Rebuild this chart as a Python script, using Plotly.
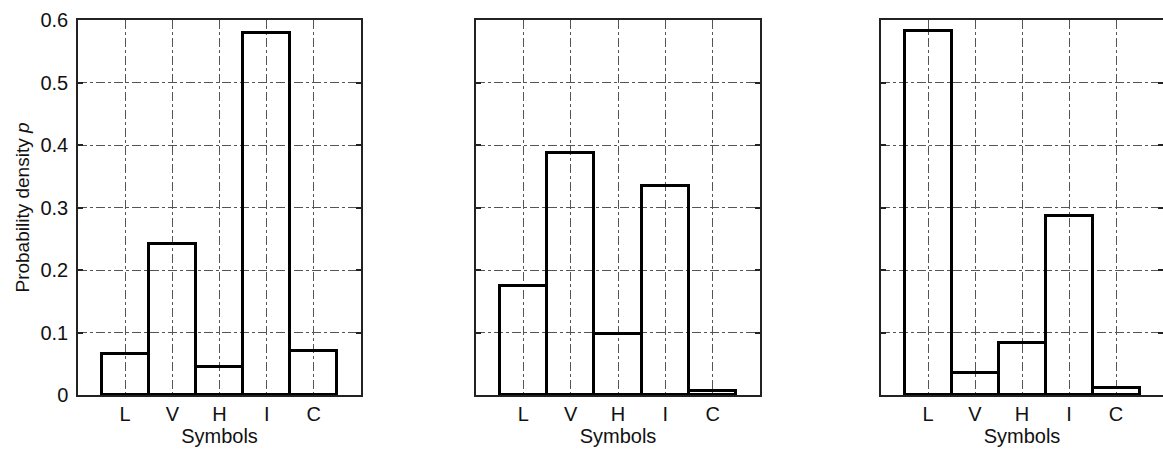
import plotly.graph_objects as go

symbols = ["L", "V", "H", "I", "C"]
positions = [1, 2, 3, 4, 5]
panel1 = [0.065, 0.241, 0.045, 0.580, 0.071]
panel2 = [0.174, 0.388, 0.098, 0.334, 0.006]
panel3 = [0.582, 0.035, 0.083, 0.287, 0.012]
y_ticks = [0, 0.1, 0.2, 0.3, 0.4, 0.5, 0.6]
y_tick_text = ["0", "0.1", "0.2", "0.3", "0.4", "0.5", "0.6"]

W, H = 1163, 453
FONT = "Liberation Sans, Arial, sans-serif"

fig = go.Figure()
for i, vals in enumerate([panel1, panel2, panel3]):
    suffix = "" if i == 0 else str(i + 1)
    fig.add_trace(go.Bar(
        x=positions, y=vals, width=1,
        marker=dict(color="rgba(0,0,0,0)", line=dict(color="black", width=3)),
        xaxis="x" + suffix, yaxis="y" + suffix, showlegend=False,
        hoverinfo="x+y",
    ))

x_domains = [(78 / W, 361 / W), (476 / W, 760 / W), (881 / W, 1.0)]
y_domain = (1 - 395 / H, 1 - 20 / H)

layout = dict(
    width=W, height=H,
    margin=dict(l=0, r=0, t=0, b=0),
    paper_bgcolor="white", plot_bgcolor="white",
    font=dict(family=FONT, size=20, color="#111"),
    bargap=0,
)

for i in range(3):
    suffix = "" if i == 0 else str(i + 1)
    layout["xaxis" + suffix] = dict(
        domain=list(x_domains[i]), range=[0, 6], anchor="y" + suffix,
        tickvals=positions, ticktext=symbols, ticks="",
        showline=True, mirror=True, linecolor="#222", linewidth=1.5,
        showgrid=True, gridcolor="#555", gridwidth=1, griddash="dashdot",
        zeroline=False, fixedrange=True,
        title=dict(text="Symbols", font=dict(size=20, family=FONT), standoff=0),
        tickfont=dict(size=20, family=FONT),
        automargin=False,
    )
    layout["yaxis" + suffix] = dict(
        domain=list(y_domain), range=[0, 0.6], anchor="x" + suffix,
        tickvals=y_ticks, ticktext=y_tick_text,
        showticklabels=(i == 0),
        ticks="inside", ticklen=5, tickcolor="#222", tickwidth=1.5,
        showline=True, mirror="ticks", linecolor="#222", linewidth=1.5,
        showgrid=True, gridcolor="#555", gridwidth=1, griddash="dashdot",
        zeroline=False, fixedrange=True,
        tickfont=dict(size=20, family=FONT),
        ticklabelstandoff=4,
        automargin=False,
    )

layout["yaxis"]["title"] = dict(
    text="Probability density <i>p</i>", font=dict(size=19, family=FONT), standoff=6,
)

fig.update_layout(**layout)
fig.write_html("out.html")
